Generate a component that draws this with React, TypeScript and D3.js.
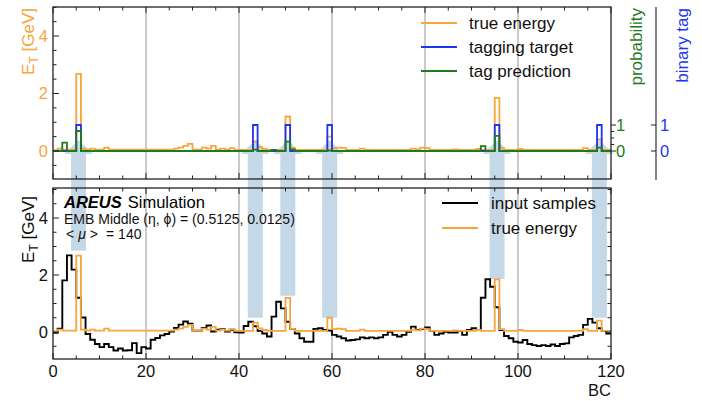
import React from 'react';
import * as d3 from 'd3';

// ---------------- data ----------------
const trueEnergy = [
  0.02, 0.08, 0.05, 0.05, 0.05, 2.68, 0.08, 0.05, 0.08, 0.05,
  0.05, 0.12, 0.05, 0.05, 0.05, 0.05, 0.05, 0.05, 0.05, 0.05,
  0.05, 0.05, 0.05, 0.05, 0.05, 0.05, 0.08, 0.12, 0.18, 0.25,
  0.05, 0.05, 0.12, 0.08, 0.18, 0.05, 0.08, 0.05, 0.1, 0.04,
  0.04, 0.04, 0.04, 0.33, 0.13, 0.07, 0.04, 0.04, 0.04, 0.04,
  1.2, 0.11, 0.04, 0.04, 0.04, 0.04, 0.04, 0.04, 0.04, 0.5,
  0.1, 0.12, 0.1, 0.04, 0.04, 0.04, 0.08, 0.04, 0.04, 0.04,
  0.04, 0.04, 0.04, 0.04, 0.04, 0.04, 0.04, 0.08, 0.06, 0.12,
  0.1, 0.04, 0.04, 0.04, 0.04, 0.04, 0.06, 0.04, 0.04, 0.04,
  0.04, 0.07, 0.04, 0.04, 0.04, 1.85, 0.1, 0.04, 0.04, 0.04,
  0.07, 0.04, 0.04, 0.04, 0.04, 0.04, 0.04, 0.04, 0.04, 0.04,
  0.04, 0.04, 0.04, 0.04, 0.1, 0.04, 0.04, 0.4, 0.04, 0.04,
];

const inputSamples = [
  -0.03, 0.12, 1.81, 2.69, 2.19, 1.2, 0.51, -0.07, -0.27, -0.42,
  -0.53, -0.42, -0.53, -0.65, -0.58, -0.65, -0.64, -0.39, -0.74, -0.53,
  -0.58, -0.27, -0.21, -0.12, -0.07, 0.02, 0.14, 0.26, 0.37, 0.29,
  0.05, 0.05, 0.14, 0.23, 0.02, 0.08, 0.1, 0.02, 0.08, -0.01,
  -0.02, 0.21, 0.36, 0.2, 0.04, -0.05, -0.16, 0.54, 1.06, 0.83,
  0.36, 0.11, -0.05, -0.22, -0.34, -0.34, 0.11, 0.13, 0.07, 0.05,
  -0.1, -0.16, -0.22, -0.3, -0.28, -0.26, -0.19, -0.22, -0.19, -0.22,
  -0.19, -0.1, 0.01, -0.1, -0.16, -0.1, 0.01, 0.19, 0.07, 0.1,
  0.16, 0.04, -0.1, -0.05, 0.01, -0.02, -0.02, 0.04, -0.1, 0.07,
  0.13, 0.07, 1.2, 1.85, 1.59, 0.87, 0.07, -0.14, -0.22, -0.34,
  -0.37, -0.28, -0.42, -0.46, -0.49, -0.46, -0.49, -0.44, -0.49, -0.42,
  -0.4, -0.19, -0.14, -0.1, 0.25, 0.46, 0.33, 0.13, 0.04, -0.05,
];

const tagPrediction = [
  0, 0, 0.32, 0, 0, 0.77, 0, 0, 0, 0,
  0, 0, 0, 0, 0, 0, 0, 0, 0, 0,
  0, 0, 0, 0, 0, 0, 0, 0, 0, 0,
  0, 0, 0, 0, 0, 0, 0, 0, 0, 0,
  0, 0, 0, 0.05, 0, 0, 0, 0.04, 0, 0,
  0.36, 0.06, 0, 0, 0, 0, 0, 0, 0, 0.02,
  0, 0, 0, 0, 0, 0, 0, 0, 0, 0,
  0, 0, 0, 0, 0, 0, 0, 0, 0, 0,
  0, 0, 0, 0, 0, 0, 0, 0, 0, 0,
  0, 0, 0.19, 0, 0, 0.58, 0, 0, 0, 0,
  0, 0, 0, 0, 0, 0, 0, 0, 0, 0,
  0, 0, 0, 0, 0, 0, 0, 0.13, 0, 0,
];

const taggedBCs = [5, 43, 50, 59, 95, 117];
const arrowStart = [2.85, 0.5, 1.27, 0.5, 1.86, 0.5];
const taggingTarget = d3.range(120).map((i) => (taggedBCs.includes(i) ? 1 : 0));

const xTicks = [0, 20, 40, 60, 80, 100, 120];
const yTicks = [0, 2, 4];
const probTicks = [0, 1];

// ---------------- styles ----------------
const W = 702;
const H = 401;
const FONT = '"Liberation Sans", Arial, Helvetica, sans-serif';
const ORANGE = '#f8a53c';
const BLUE = '#1c35f0';
const GREEN = '#1d7a1d';
const GRID = '#b8b8b8';
const AXIS = '#222';
const ARROW = '#c5d8e8';

const L = 53;
const R = 611;
const TOP0 = 7;
const TOP1 = 179;
const BOT0 = 188;
const BOT1 = 359;

const x = d3.scaleLinear().domain([0, 120]).range([L, R]);
const yTop = d3.scaleLinear().domain([(151 - TOP1) / 28.75, (151 - TOP0) / 28.75]).range([TOP1, TOP0]);
const yProb = d3.scaleLinear().domain([(151 - TOP1) / 26, (151 - TOP0) / 26]).range([TOP1, TOP0]);
const yBot = d3.scaleLinear().domain([(332 - BOT1) / 28.5, (332 - BOT0) / 28.5]).range([BOT1, BOT0]);

function stepPath(values: number[], ys: d3.ScaleLinear<number, number>) {
  const pts: [number, number][] = [[0, 0]];
  values.forEach((v, i) => pts.push([i, v]));
  pts.push([120, values[values.length - 1]]);
  pts.push([120, 0]);
  const line = d3
    .line<[number, number]>()
    .x((d) => x(d[0]))
    .y((d) => ys(d[1]))
    .curve(d3.curveStepAfter);
  return line(pts) || '';
}

const minorX = d3.range(0, 121, 5);
const minorY = d3.range(-0.5, 5.01, 0.5);

function Frame({ y0, y1, ys, rightTicks }: { y0: number; y1: number; ys: d3.ScaleLinear<number, number>; rightTicks: boolean }) {
  return (
    <g>
      {minorX.map((v) => {
        const major = v % 20 === 0;
        const len = major ? 6 : 3.5;
        return (
          <g key={'xt' + v}>
            <line x1={x(v)} x2={x(v)} y1={y1} y2={y1 - len} stroke={AXIS} strokeWidth={1} />
            <line x1={x(v)} x2={x(v)} y1={y0} y2={y0 + len} stroke={AXIS} strokeWidth={1} />
          </g>
        );
      })}
      {minorY.map((v) => {
        const major = Math.abs(v % 2) < 1e-6;
        const len = major ? 6 : 3.5;
        const yy = ys(v);
        if (yy < y0 || yy > y1) return null;
        return (
          <g key={'yt' + v}>
            <line x1={L} x2={L + len} y1={yy} y2={yy} stroke={AXIS} strokeWidth={1} />
            {rightTicks && <line x1={R} x2={R - len} y1={yy} y2={yy} stroke={AXIS} strokeWidth={1} />}
          </g>
        );
      })}
      <rect x={L} y={y0} width={R - L} height={y1 - y0} fill="none" stroke={AXIS} strokeWidth={1.3} />
    </g>
  );
}

function Grid({ y0, y1 }: { y0: number; y1: number }) {
  return (
    <g>
      {[20, 40, 60, 80, 100].map((v) => (
        <line key={v} x1={x(v)} x2={x(v)} y1={y0} y2={y1} stroke={GRID} strokeWidth={1.5} />
      ))}
    </g>
  );
}

function ETLabel({ xPos, yPos, color }: { xPos: number; yPos: number; color: string }) {
  return (
    <text
      transform={`translate(${xPos},${yPos}) rotate(-90)`}
      textAnchor="end"
      fontFamily={FONT}
      fontSize={17}
      fill={color}
    >
      E<tspan fontSize={12} dy={4}>T</tspan>
      <tspan dy={-4}> [GeV]</tspan>
    </text>
  );
}

export default function App() {
  const headTip = yTop(0.37);
  const headBase = yTop(-0.1);
  return (
    <svg width={W} height={H} style={{ position: 'absolute', left: 0, top: 0, background: '#fff' }}>
      <defs>
        <clipPath id="clipTop">
          <rect x={L} y={TOP0} width={R - L} height={TOP1 - TOP0} />
        </clipPath>
        <clipPath id="clipBot">
          <rect x={L} y={BOT0} width={R - L} height={BOT1 - BOT0} />
        </clipPath>
      </defs>
      <rect x={0} y={0} width={W} height={H} fill="#fff" />

      <Grid y0={TOP0} y1={TOP1} />
      <Grid y0={BOT0} y1={BOT1} />

      {/* arrows */}
      {taggedBCs.map((bc, i) => {
        const cx = x(bc + 0.5);
        const sw = 7.5;
        const hw = 14.5;
        const yb = yBot(arrowStart[i]);
        const d = `M${cx - sw},${yb} L${cx - sw},${headBase} L${cx - hw},${headBase} L${cx},${headTip} L${cx + hw},${headBase} L${cx + sw},${headBase} L${cx + sw},${yb} Z`;
        return <path key={'ar' + bc} d={d} fill={ARROW} />;
      })}

      {/* top panel */}
      <g clipPath="url(#clipTop)">
        <path d={stepPath(trueEnergy, yTop)} fill="none" stroke={ORANGE} strokeWidth={1.8} />
        <path d={stepPath(taggingTarget, yProb)} fill="none" stroke={BLUE} strokeWidth={1.8} />
        <path d={stepPath(tagPrediction, yProb)} fill="none" stroke={GREEN} strokeWidth={1.8} />
      </g>
      <Frame y0={TOP0} y1={TOP1} ys={yTop} rightTicks={false} />
      {yTicks.map((v) => (
        <text key={'yl' + v} x={L - 5} y={yTop(v)} dy="0.35em" textAnchor="end" fontFamily={FONT} fontSize={16.5} fill={ORANGE}>
          {v}
        </text>
      ))}
      <ETLabel xPos={34} yPos={8} color={ORANGE} />

      {/* probability axis */}
      {d3.range(0, 1.01, 0.25).map((v) => {
        const major = v === 0 || v === 1;
        return (
          <line key={'pt' + v} x1={R} x2={R + (major ? 5 : 3)} y1={yProb(v)} y2={yProb(v)} stroke={AXIS} strokeWidth={1} />
        );
      })}
      {probTicks.map((v) => (
        <text key={'pl' + v} x={R + 5} y={yProb(v)} dy="0.35em" fontFamily={FONT} fontSize={16.5} fill={GREEN}>
          {v}
        </text>
      ))}
      <text transform={`translate(642,8) rotate(-90)`} textAnchor="end" fontFamily={FONT} fontSize={17} fill={GREEN}>
        probability
      </text>

      {/* binary tag axis */}
      <line x1={656} x2={656} y1={TOP0} y2={TOP1 + 1} stroke="#444" strokeWidth={1.3} />
      {probTicks.map((v) => (
        <g key={'bt' + v}>
          <line x1={656} x2={651} y1={yProb(v)} y2={yProb(v)} stroke={AXIS} strokeWidth={1} />
          <text x={660} y={yProb(v)} dy="0.35em" fontFamily={FONT} fontSize={16.5} fill={BLUE}>
            {v}
          </text>
        </g>
      ))}
      <text transform={`translate(688,8) rotate(-90)`} textAnchor="end" fontFamily={FONT} fontSize={17} fill={BLUE}>
        binary tag
      </text>

      {/* top legend */}
      {[
        { label: 'true energy', color: ORANGE },
        { label: 'tagging target', color: BLUE },
        { label: 'tag prediction', color: GREEN },
      ].map((d, i) => (
        <g key={d.label}>
          <line x1={421} x2={457} y1={23 + i * 24} y2={23 + i * 24} stroke={d.color} strokeWidth={2} />
          <text x={469} y={23 + i * 24} dy="0.35em" fontFamily={FONT} fontSize={17} fill="#111">
            {d.label}
          </text>
        </g>
      ))}

      {/* bottom panel */}
      <g clipPath="url(#clipBot)">
        <path d={stepPath(inputSamples, yBot)} fill="none" stroke="#000" strokeWidth={1.9} />
        <path d={stepPath(trueEnergy, yBot)} fill="none" stroke={ORANGE} strokeWidth={1.8} />
      </g>
      <Frame y0={BOT0} y1={BOT1} ys={yBot} rightTicks={true} />
      {yTicks.map((v) => (
        <text key={'ybl' + v} x={L - 5} y={yBot(v)} dy="0.35em" textAnchor="end" fontFamily={FONT} fontSize={16.5} fill="#111">
          {v}
        </text>
      ))}
      {xTicks.map((v) => (
        <text key={'xl' + v} x={x(v)} y={377} textAnchor="middle" fontFamily={FONT} fontSize={16.5} fill="#111">
          {v}
        </text>
      ))}
      <text x={R} y={396} textAnchor="end" fontFamily={FONT} fontSize={16.5} fill="#111">
        BC
      </text>
      <ETLabel xPos={34} yPos={196} color="#111" />

      {/* annotation */}
      <text x={64} y={208} fontFamily={FONT} fontSize={16.5} fill="#000">
        <tspan fontWeight="bold" fontStyle="italic">AREUS</tspan>
        <tspan dx={6}>Simulation</tspan>
      </text>
      <text x={64} y={224} fontFamily={FONT} fontSize={14} fill="#111">
        EMB Middle (η, ϕ) = (0.5125, 0.0125)
      </text>
      <text x={66} y={239} fontFamily={FONT} fontSize={14} fill="#111">
        {'<'}
        <tspan dx={4} fontStyle="italic">μ</tspan>
        <tspan dx={4}>{'>'}</tspan>
        <tspan dx={8}>{'= 140'}</tspan>
      </text>

      {/* bottom legend */}
      {[
        { label: 'input samples', color: '#000' },
        { label: 'true energy', color: ORANGE },
      ].map((d, i) => (
        <g key={'bl' + d.label}>
          <line x1={442} x2={478} y1={203 + i * 25} y2={203 + i * 25} stroke={d.color} strokeWidth={2} />
          <text x={491} y={203 + i * 25} dy="0.35em" fontFamily={FONT} fontSize={17} fill="#111">
            {d.label}
          </text>
        </g>
      ))}
    </svg>
  );
}
